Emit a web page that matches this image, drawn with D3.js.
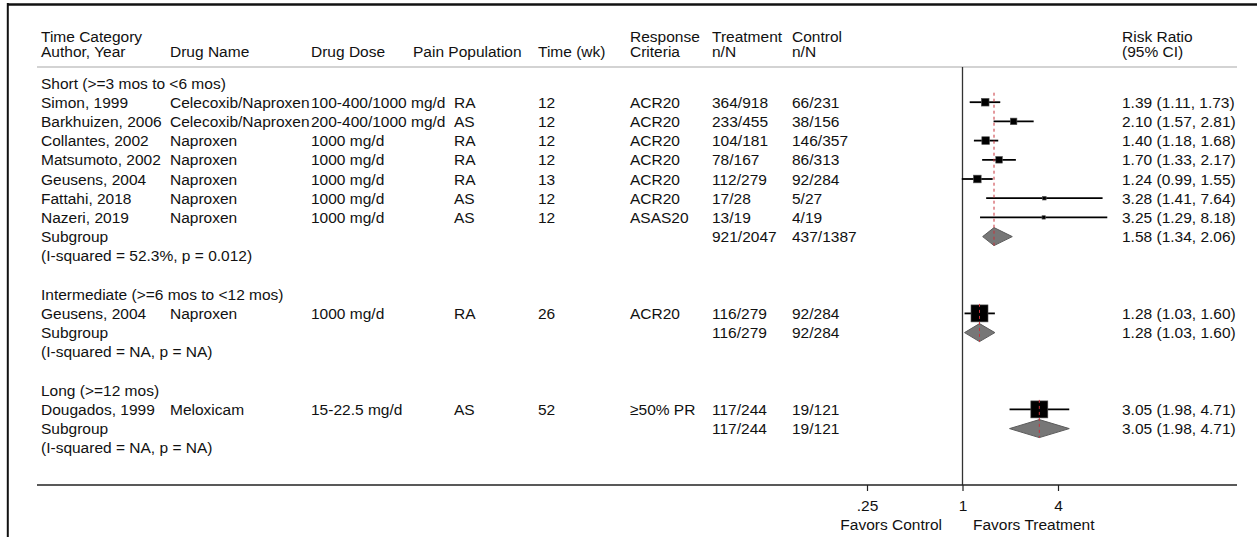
<!DOCTYPE html>
<html>
<head>
<meta charset="utf-8">
<title>Forest plot by time category</title>
<script src="https://d3js.org/d3.v7.min.js"></script>
<style>
  body { margin: 0; background: #fff; }
  text { font-family: "Liberation Sans", Arial, Helvetica, sans-serif; font-size: 15.5px; fill: #111; }
</style>
</head>
<body>
<div id="chart"></div>
<script>
// ---- data ----
const groupLabels = ["Short (>=3 mos to <6 mos)", "Intermediate (>=6 mos to <12 mos)", "Long (>=12 mos)"];
const studyGroup = [0, 0, 0, 0, 0, 0, 0, 1, 2];
const studies = ["Simon, 1999", "Barkhuizen, 2006", "Collantes, 2002", "Matsumoto, 2002", "Geusens, 2004",
                 "Fattahi, 2018", "Nazeri, 2019", "Geusens, 2004", "Dougados, 1999"];
const drugNames = ["Celecoxib/Naproxen", "Celecoxib/Naproxen", "Naproxen", "Naproxen", "Naproxen",
                   "Naproxen", "Naproxen", "Naproxen", "Meloxicam"];
const drugDoses = ["100-400/1000 mg/d", "200-400/1000 mg/d", "1000 mg/d", "1000 mg/d", "1000 mg/d",
                   "1000 mg/d", "1000 mg/d", "1000 mg/d", "15-22.5 mg/d"];
const painPops = ["RA", "AS", "RA", "RA", "RA", "AS", "AS", "RA", "AS"];
const timeWk = ["12", "12", "12", "12", "13", "12", "12", "26", "52"];
const criteria = ["ACR20", "ACR20", "ACR20", "ACR20", "ACR20", "ACR20", "ASAS20", "ACR20", "≥50% PR"];
const treatmentNN = ["364/918", "233/455", "104/181", "78/167", "112/279", "17/28", "13/19", "116/279", "117/244"];
const controlNN = ["66/231", "38/156", "146/357", "86/313", "92/284", "5/27", "4/19", "92/284", "19/121"];
const rr = [1.39, 2.10, 1.40, 1.70, 1.24, 3.28, 3.25, 1.28, 3.05];
const rrLow = [1.11, 1.57, 1.18, 1.33, 0.99, 1.41, 1.29, 1.03, 1.98];
const rrHigh = [1.73, 2.81, 1.68, 2.17, 1.55, 7.64, 8.18, 1.60, 4.71];
const weights = [20.5, 15, 20.5, 15, 20.5, 4.5, 4, 100, 100]; // % within subgroup

const subTreatment = ["921/2047", "116/279", "117/244"];
const subControl = ["437/1387", "92/284", "19/121"];
const subRR = [1.58, 1.28, 3.05];
const subLow = [1.34, 1.03, 1.98];
const subHigh = [2.06, 1.60, 4.71];
const subHet = ["(I-squared = 52.3%, p = 0.012)", "(I-squared = NA, p = NA)", "(I-squared = NA, p = NA)"];

const tickValues = [0.25, 1, 4];
const tickLabels = [".25", "1", "4"];

// ---- layout ----
const W = 1257, H = 537;
const left = 37, right = 1237;
const cols = { study: 41, drug: 170, dose: 311, pop: 454, time: 538, crit: 630, trt: 712, ctl: 792, rr: 1122 };
const fmt = d3.format(".2f");
const rrText = (m, l, h) => `${fmt(m)} (${fmt(l)}, ${fmt(h)})`;

// build the row list
const rows = [];
groupLabels.forEach((g, gi) => {
  rows.push({ type: "group", label: g });
  studies.forEach((s, i) => { if (studyGroup[i] === gi) rows.push({ type: "study", i, g: gi }); });
  rows.push({ type: "sub", g: gi });
  rows.push({ type: "het", g: gi });
  if (gi < groupLabels.length - 1) rows.push({ type: "blank" });
});
rows.forEach((r, k) => r.k = k);

const y = d3.scaleLinear().domain([0, rows.length - 1]).range([83, 447.8]);
const x = d3.scaleLog().domain([0.25, 4]).range([867, 1058]);
const box = d3.scaleSqrt().domain([0, 100]).range([0, 17]);
const base = 5.5; // centre -> baseline offset

const svg = d3.select("#chart").append("svg")
  .attr("width", W).attr("height", H);

// frame (cropped figure border)
svg.append("line").attr("x1", 7).attr("x2", W).attr("y1", 4.5).attr("y2", 4.5)
  .attr("stroke", "#111").attr("stroke-width", 2.5);
svg.append("line").attr("x1", 7.8).attr("x2", 7.8).attr("y1", 3).attr("y2", H)
  .attr("stroke", "#111").attr("stroke-width", 2);

// header
const head = [
  [cols.study, "Time Category", "Author, Year"],
  [cols.drug, null, "Drug Name"],
  [cols.dose, null, "Drug Dose"],
  [413, null, "Pain Population"],
  [cols.time, null, "Time (wk)"],
  [cols.crit, "Response", "Criteria"],
  [cols.trt, "Treatment", "n/N"],
  [cols.ctl, "Control", "n/N"],
  [cols.rr, "Risk Ratio", "(95% CI)"]
];
const hg = svg.append("g");
head.forEach(([hx, l1, l2]) => {
  if (l1) hg.append("text").attr("x", hx).attr("y", 36 + base).text(l1);
  hg.append("text").attr("x", hx).attr("y", 51.5 + base).text(l2);
});
svg.append("line").attr("x1", left).attr("x2", right).attr("y1", 67).attr("y2", 67)
  .attr("stroke", "#c4c4c4").attr("stroke-width", 1.5);

// text columns; a cell never starts before the previous one ends
const tg = svg.append("g");
function putRow(yy, cells) {
  let prevEnd = 0;
  cells.forEach(([cx, str]) => {
    if (str == null) return;
    const t = tg.append("text").attr("x", Math.max(cx, prevEnd)).attr("y", yy + base).text(str);
    prevEnd = Math.max(cx, prevEnd) + t.node().getComputedTextLength();
  });
}
rows.forEach(r => {
  const yy = y(r.k);
  if (r.type === "group") putRow(yy, [[cols.study, r.label]]);
  if (r.type === "study") {
    const i = r.i;
    putRow(yy, [[cols.study, studies[i]], [cols.drug, drugNames[i]], [cols.dose, drugDoses[i]],
                [cols.pop, painPops[i]], [cols.time, timeWk[i]], [cols.crit, criteria[i]],
                [cols.trt, treatmentNN[i]], [cols.ctl, controlNN[i]],
                [cols.rr, rrText(rr[i], rrLow[i], rrHigh[i])]]);
  }
  if (r.type === "sub") {
    const g = r.g;
    putRow(yy, [[cols.study, "Subgroup"], [cols.trt, subTreatment[g]], [cols.ctl, subControl[g]],
                [cols.rr, rrText(subRR[g], subLow[g], subHigh[g])]]);
  }
  if (r.type === "het") putRow(yy, [[cols.study, subHet[r.g]]]);
});

// plot
const pg = svg.append("g");
// null line
pg.append("line").attr("x1", x(1)).attr("x2", x(1)).attr("y1", 67).attr("y2", 485)
  .attr("stroke", "#333").attr("stroke-width", 1.3);

const studyRows = rows.filter(r => r.type === "study");
const subRows = rows.filter(r => r.type === "sub");

// CI lines
pg.selectAll(".ci").data(studyRows).enter().append("line")
  .attr("x1", r => x(rrLow[r.i])).attr("x2", r => x(rrHigh[r.i]))
  .attr("y1", r => y(r.k)).attr("y2", r => y(r.k))
  .attr("stroke", "#000").attr("stroke-width", 1.8);

// weighted boxes
pg.selectAll(".box").data(studyRows).enter().append("rect")
  .attr("x", r => x(rr[r.i]) - box(weights[r.i]) / 2)
  .attr("y", r => y(r.k) - box(weights[r.i]) / 2)
  .attr("width", r => box(weights[r.i]))
  .attr("height", r => box(weights[r.i]))
  .attr("fill", "#000").attr("stroke", "#555").attr("stroke-width", 0.6);

// diamonds
const dh = 9;
pg.selectAll(".dia").data(subRows).enter().append("path")
  .attr("d", r => {
    const yy = y(r.k), g = r.g;
    return d3.line()([[x(subLow[g]), yy], [x(subRR[g]), yy - dh], [x(subHigh[g]), yy], [x(subRR[g]), yy + dh]]) + "Z";
  })
  .attr("fill", "#777").attr("stroke", "#5c5c5c").attr("stroke-width", 1);

// dashed red line at each subgroup estimate
groupLabels.forEach((g, gi) => {
  const first = studyRows.find(r => r.g === gi);
  const sub = subRows.find(r => r.g === gi);
  pg.append("line")
    .attr("x1", x(subRR[gi])).attr("x2", x(subRR[gi]))
    .attr("y1", y(first.k) - 9.5).attr("y2", y(sub.k) + dh)
    .attr("stroke", "#c8323a").attr("stroke-width", 1)
    .attr("stroke-dasharray", "3,3");
});

// bottom axis
svg.append("line").attr("x1", left).attr("x2", right).attr("y1", 485).attr("y2", 485)
  .attr("stroke", "#222").attr("stroke-width", 1.5);
const ax = svg.append("g").attr("transform", "translate(0,485)")
  .call(d3.axisBottom(x).tickValues(tickValues)
    .tickFormat((d, i) => tickLabels[i]).tickSize(6).tickPadding(8.5));
ax.select(".domain").remove();
ax.selectAll(".tick line").attr("stroke", "#222").attr("stroke-width", 1.2);
ax.selectAll(".tick text").attr("fill", "#111")
  .style("font-family", "\"Liberation Sans\", Arial, sans-serif").style("font-size", "15.5px");

svg.append("text").attr("x", 942).attr("y", 524 + base).attr("text-anchor", "end").text("Favors Control");
svg.append("text").attr("x", 973).attr("y", 524 + base).text("Favors Treatment");
</script>
</body>
</html>
